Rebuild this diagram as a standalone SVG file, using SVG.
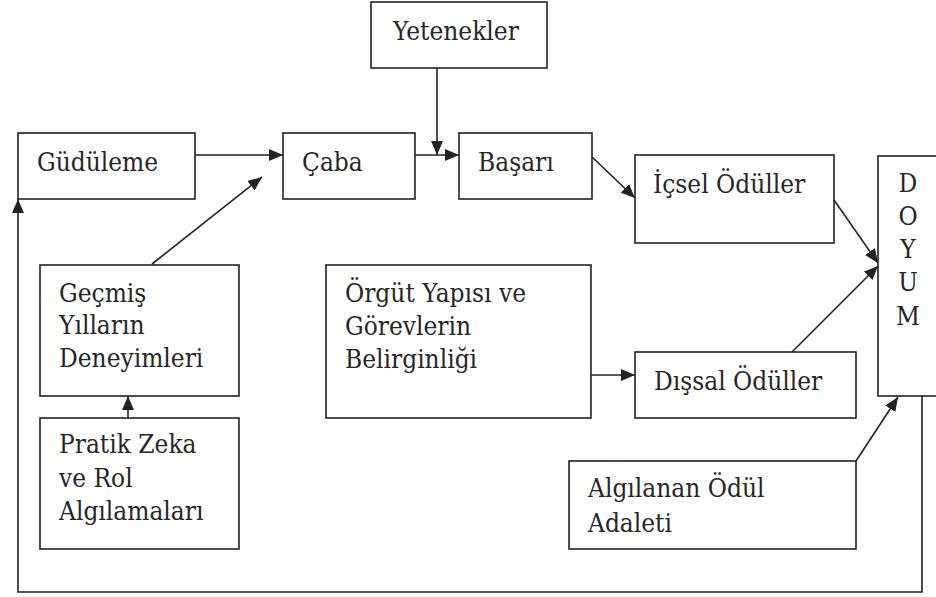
<svg xmlns="http://www.w3.org/2000/svg" width="936" height="597" viewBox="0 0 936 597">
  <style>
    .box { fill: #ffffff; stroke: #222222; stroke-width: 1.6; }
    text { font-family: "DejaVu Serif Condensed", "DejaVu Serif", serif; font-stretch: condensed; font-size: 26px; fill: #262626; }
    .doy { text-anchor: middle; }
    .arrow { fill: none; stroke: #222222; stroke-width: 1.6; marker-end: url(#head); }
  </style>
  <defs>
    <marker id="head" markerUnits="userSpaceOnUse" markerWidth="15" markerHeight="13" refX="14" refY="6.5" orient="auto">
      <path d="M0,0.5 L14,6.5 L0,12.5 z" fill="#222222"/>
    </marker>
  </defs>
  <rect width="936" height="597" fill="#ffffff"/>

  <g id="connectors">
    <line class="arrow" x1="195" y1="155" x2="283" y2="155"/>
    <line class="arrow" x1="415" y1="155" x2="459" y2="155"/>
    <line class="arrow" x1="437" y1="68" x2="437" y2="155"/>
    <line class="arrow" x1="152" y1="264" x2="262" y2="177"/>
    <line class="arrow" x1="128" y1="418" x2="128" y2="396"/>
    <line class="arrow" x1="592" y1="157" x2="635" y2="198"/>
    <line class="arrow" x1="834" y1="200" x2="878" y2="263"/>
    <line class="arrow" x1="792" y1="352" x2="878" y2="266"/>
    <line class="arrow" x1="591" y1="375" x2="635" y2="375"/>
    <line class="arrow" x1="856" y1="461" x2="898" y2="397"/>
    <polyline class="arrow" points="922,396 922,592 18,592 18,199"/>
  </g>

  <g id="yetenekler">
    <rect class="box" x="371" y="2" width="176" height="66"/>
    <text x="393" y="40">Yetenekler</text>
  </g>
  <g id="gudulme">
    <rect class="box" x="18" y="133" width="177" height="66"/>
    <text x="37" y="171">Güdüleme</text>
  </g>
  <g id="caba">
    <rect class="box" x="283" y="133" width="132" height="66"/>
    <text x="302" y="171">Çaba</text>
  </g>
  <g id="basari">
    <rect class="box" x="459" y="133" width="133" height="66"/>
    <text x="478" y="171">Başarı</text>
  </g>
  <g id="icsel-oduller">
    <rect class="box" x="635" y="155" width="199" height="88"/>
    <text x="653" y="193">İçsel Ödüller</text>
  </g>
  <g id="doyum">
    <rect class="box" x="878" y="156" width="70" height="240"/>
    <text class="doy" x="908" y="192">D</text>
    <text class="doy" x="908" y="225">O</text>
    <text class="doy" x="908" y="258">Y</text>
    <text class="doy" x="908" y="291">U</text>
    <text class="doy" x="908" y="325">M</text>
  </g>
  <g id="gecmis-yillar">
    <rect class="box" x="40" y="265" width="199" height="131"/>
    <text x="59" y="302">Geçmiş</text>
    <text x="59" y="334">Yılların</text>
    <text x="59" y="367">Deneyimleri</text>
  </g>
  <g id="orgut-yapisi">
    <rect class="box" x="326" y="265" width="265" height="153"/>
    <text x="345" y="302">Örgüt Yapısı ve</text>
    <text x="345" y="335">Görevlerin</text>
    <text x="345" y="368">Belirginliği</text>
  </g>
  <g id="dissal-oduller">
    <rect class="box" x="635" y="352" width="221" height="66"/>
    <text x="654" y="390">Dışsal Ödüller</text>
  </g>
  <g id="pratik-zeka">
    <rect class="box" x="40" y="418" width="199" height="131"/>
    <text x="59" y="453">Pratik Zeka</text>
    <text x="59" y="487">ve Rol</text>
    <text x="59" y="520">Algılamaları</text>
  </g>
  <g id="algilanan-adalet">
    <rect class="box" x="569" y="461" width="287" height="88"/>
    <text x="588" y="497">Algılanan Ödül</text>
    <text x="588" y="532">Adaleti</text>
  </g>
</svg>
